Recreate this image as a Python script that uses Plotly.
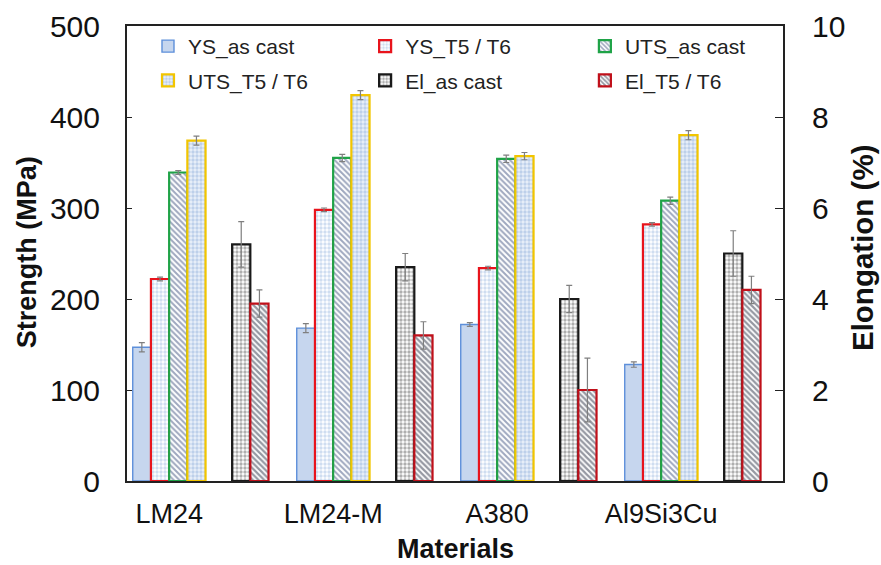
import plotly.graph_objects as go

categories = ["LM24", "LM24-M", "A380", "Al9Si3Cu"]

ys_as_cast = [147, 168, 172, 128]
ys_as_cast_err = [5, 5, 2, 3]
ys_t5t6 = [222, 298, 234, 282]
ys_t5t6_err = [2, 2, 2, 2]
uts_as_cast = [339, 355, 354, 308]
uts_as_cast_err = [2, 4, 4, 4]
uts_t5t6 = [374, 424, 357, 380]
uts_t5t6_err = [5, 5, 4, 5]
el_as_cast = [5.2, 4.7, 4.0, 5.0]
el_as_cast_err = [0.5, 0.3, 0.3, 0.5]
el_t5t6 = [3.9, 3.2, 2.0, 4.2]
el_t5t6_err = [0.3, 0.3, 0.7, 0.3]

idx = list(range(len(categories)))
BW = 0.111          # bar width in category units
S0 = 0.035          # start of strength group within a category
E0 = 0.641          # start of elongation group within a category
FONT = "Liberation Sans, Arial, sans-serif"
ERR = dict(type="data", color="#7f7f7f", thickness=1.2, width=3)

fig = go.Figure()

def add_bar(name, vals, errs, k, start, yaxis, legend, fill, line, pattern=None, lw=2.2):
    marker = dict(color=fill, line=dict(color=line, width=lw))
    if pattern:
        marker["pattern"] = pattern
    fig.add_trace(go.Bar(
        name=name, x=idx, y=vals, yaxis=yaxis,
        offset=start + k * BW, width=BW,
        marker=marker, legend=legend, legendgroup=name,
        error_y=dict(array=errs, **ERR),
    ))

add_bar("YS_as cast", ys_as_cast, ys_as_cast_err, 0, S0, "y", "legend",
        "#c6d6ee", "#5d8fda", lw=1.4)
add_bar("YS_T5 / T6", ys_t5t6, ys_t5t6_err, 1, S0, "y", "legend2",
        "#ffffff", "#e8141c",
        dict(shape=".", fgcolor="#9fbbe2", bgcolor="#ffffff", size=4, solidity=0.55))
add_bar("UTS_as cast", uts_as_cast, uts_as_cast_err, 2, S0, "y", "legend3",
        "#ffffff", "#1fa347",
        dict(shape="\\", fgcolor="#3f5280", bgcolor="#ffffff", size=4, solidity=0.5))
add_bar("UTS_T5 / T6", uts_t5t6, uts_t5t6_err, 3, S0, "y", "legend",
        "#eaf0f9", "#f2c500",
        dict(shape=".", fgcolor="#8fb0db", bgcolor="#eaf0f9", size=4, solidity=0.55))
add_bar("El_as cast", el_as_cast, el_as_cast_err, 0, E0, "y2", "legend2",
        "#ffffff", "#1a1a1a",
        dict(shape=".", fgcolor="#5e5e5e", bgcolor="#ffffff", size=4, solidity=0.55))
add_bar("El_T5 / T6", el_t5t6, el_t5t6_err, 1, E0, "y2", "legend3",
        "#ffffff", "#c0101a",
        dict(shape="\\", fgcolor="#2b3145", bgcolor="#ffffff", size=4, solidity=0.55))

leg_common = dict(
    orientation="v", y=1.0, xanchor="left", yanchor="top",
    font=dict(size=21, family=FONT, color="#222222"),
    bgcolor="rgba(255,255,255,0)", itemwidth=30,
    traceorder="grouped", tracegroupgap=4,
)

TITLE_FONT = dict(family=FONT, color="#111111")

fig.update_layout(
    width=881, height=565,
    margin=dict(l=127, r=98, t=26, b=84),
    paper_bgcolor="white", plot_bgcolor="white",
    barmode="overlay",
    font=dict(family=FONT, color="#111111"),
    showlegend=True,
    legend=dict(x=0.032, **leg_common),
    legend2=dict(x=0.363, **leg_common),
    legend3=dict(x=0.698, **leg_common),
    xaxis=dict(
        range=[0, 4], tickvals=[i + S0 + 2 * BW for i in idx], ticktext=categories,
        showline=True, linecolor="#222222", linewidth=2, mirror=True,
        ticks="", showgrid=False, zeroline=False, automargin=False,
        tickfont=dict(size=27, family=FONT, color="#111111"), ticklabelstandoff=8,
    ),
    yaxis=dict(
        range=[0, 500], dtick=100, showline=True, linecolor="#222222", linewidth=2,
        ticks="inside", ticklen=5, tickcolor="#222222", showgrid=False, zeroline=False,
        tickfont=dict(size=30, family=FONT, color="#111111"), ticklabelstandoff=19,
        automargin=False,
    ),
    yaxis2=dict(
        range=[0, 10], dtick=2, overlaying="y", side="right",
        showline=True, linecolor="#222222", linewidth=2,
        ticks="inside", ticklen=8, tickcolor="#222222", showgrid=False, zeroline=False,
        tickfont=dict(size=30, family=FONT, color="#111111"), ticklabelstandoff=21,
        automargin=False,
    ),
    annotations=[
        dict(text="<b>Strength (MPa)</b>", xref="paper", yref="paper",
             x=-0.1524, y=0.503, textangle=-90, showarrow=False,
             xanchor="center", yanchor="middle",
             font=dict(size=27, **TITLE_FONT)),
        dict(text="<b>Elongation (%)</b>", xref="paper", yref="paper",
             x=1.1204, y=0.512, textangle=-90, showarrow=False,
             xanchor="center", yanchor="middle",
             font=dict(size=29.5, **TITLE_FONT)),
        dict(text="<b>Materials</b>", xref="paper", yref="paper",
             x=0.5015, y=-0.149, showarrow=False,
             xanchor="center", yanchor="middle",
             font=dict(size=27, **TITLE_FONT)),
    ],
)

fig.write_html("out.html", config={"displayModeBar": False},
               post_script="document.body.style.margin='0';")
